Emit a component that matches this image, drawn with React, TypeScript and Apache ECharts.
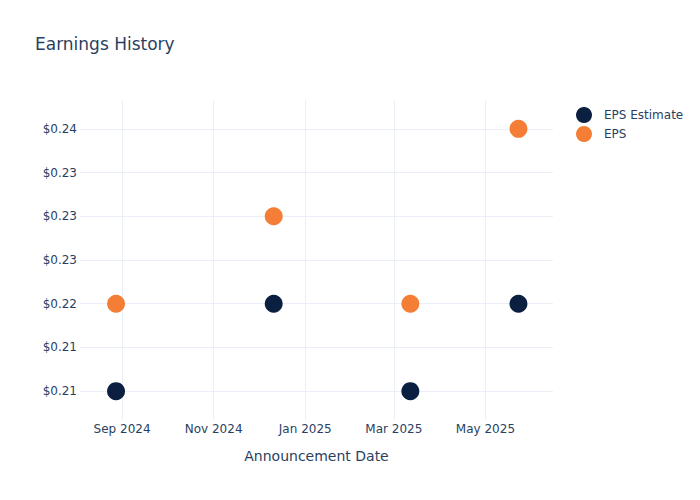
import React, { useEffect, useRef } from "react";
import * as echarts from "echarts";

const announcementDates = ["2024-08-28", "2024-12-11", "2025-03-12", "2025-05-23"];
const epsEstimate = [0.21, 0.22, 0.21, 0.22];
const epsActual = [0.22, 0.23, 0.22, 0.24];
const yTicks = [0.21, 0.215, 0.22, 0.225, 0.23, 0.235, 0.24];
const xTickDates = ["2024-09-01", "2024-11-01", "2025-01-01", "2025-03-01", "2025-05-01"];
const xRange = ["2024-08-04", "2025-06-15"];
const yRange = [0.2067, 0.2433];

const MONTHS = ["Jan", "Feb", "Mar", "Apr", "May", "Jun", "Jul", "Aug", "Sep", "Oct", "Nov", "Dec"];

function ts(s: string): number {
  const [y, m, d] = s.split("-").map(Number);
  return new Date(y, m - 1, d).getTime();
}

const TEXT = "#2a3f5f";
const GRID = "#ebf0f8";
const FONT = "'DejaVu Sans', sans-serif";

export default function App() {
  const ref = useRef<HTMLDivElement>(null);
  useEffect(() => {
    if (!ref.current) return;
    const chart = echarts.init(ref.current, undefined, { renderer: "svg" });
    chart.setOption({
      animation: false,
      backgroundColor: "#ffffff",
      title: {
        text: "Earnings History",
        left: 30,
        top: 30,
        textStyle: { color: TEXT, fontSize: 17, fontWeight: "normal", fontFamily: FONT },
      },
      legend: {
        orient: "vertical",
        left: 571,
        top: 102,
        itemWidth: 16,
        itemHeight: 16,
        itemGap: 3,
        icon: "circle",
        textStyle: { color: TEXT, fontSize: 12, fontFamily: FONT, padding: [0, 0, 0, 7] },
        data: ["EPS Estimate", "EPS"],
      },
      grid: { left: 80, right: 147, top: 100, bottom: 80, containLabel: false },
      xAxis: {
        type: "value",
        min: ts(xRange[0]),
        max: ts(xRange[1]),
        name: "Announcement Date",
        nameLocation: "middle",
        nameGap: 29,
        nameTextStyle: { color: TEXT, fontSize: 14, fontFamily: FONT },
        axisLine: { show: false },
        axisTick: { show: false, customValues: xTickDates.map(ts) },
        axisLabel: {
          customValues: xTickDates.map(ts),
          color: TEXT,
          fontSize: 12,
          fontFamily: FONT,
          margin: 3,
          formatter: (v: number) => {
            const d = new Date(v);
            return MONTHS[d.getMonth()] + " " + d.getFullYear();
          },
        },
        splitLine: { show: true, lineStyle: { color: GRID, width: 1 } },
      },
      yAxis: {
        type: "value",
        min: yRange[0],
        max: yRange[1],
        axisLine: { show: false },
        axisTick: { show: false, customValues: yTicks },
        axisLabel: {
          customValues: yTicks,
          color: TEXT,
          fontSize: 12,
          fontFamily: FONT,
          margin: 3,
          formatter: (v: number) => "$" + v.toFixed(2),
        },
        splitLine: { show: true, lineStyle: { color: GRID, width: 1 } },
      },
      series: [
        {
          name: "EPS Estimate",
          type: "scatter",
          symbol: "circle",
          symbolSize: 18,
          itemStyle: { color: "#0b1f41", opacity: 1 },
          data: announcementDates.map((d, i) => [ts(d), epsEstimate[i]]),
        },
        {
          name: "EPS",
          type: "scatter",
          symbol: "circle",
          symbolSize: 18,
          itemStyle: { color: "#f57e37", opacity: 1 },
          data: announcementDates.map((d, i) => [ts(d), epsActual[i]]),
        },
      ],
    });
    return () => chart.dispose();
  }, []);
  return <div ref={ref} style={{ width: 700, height: 500, position: "absolute", left: 0, top: 0 }} />;
}
